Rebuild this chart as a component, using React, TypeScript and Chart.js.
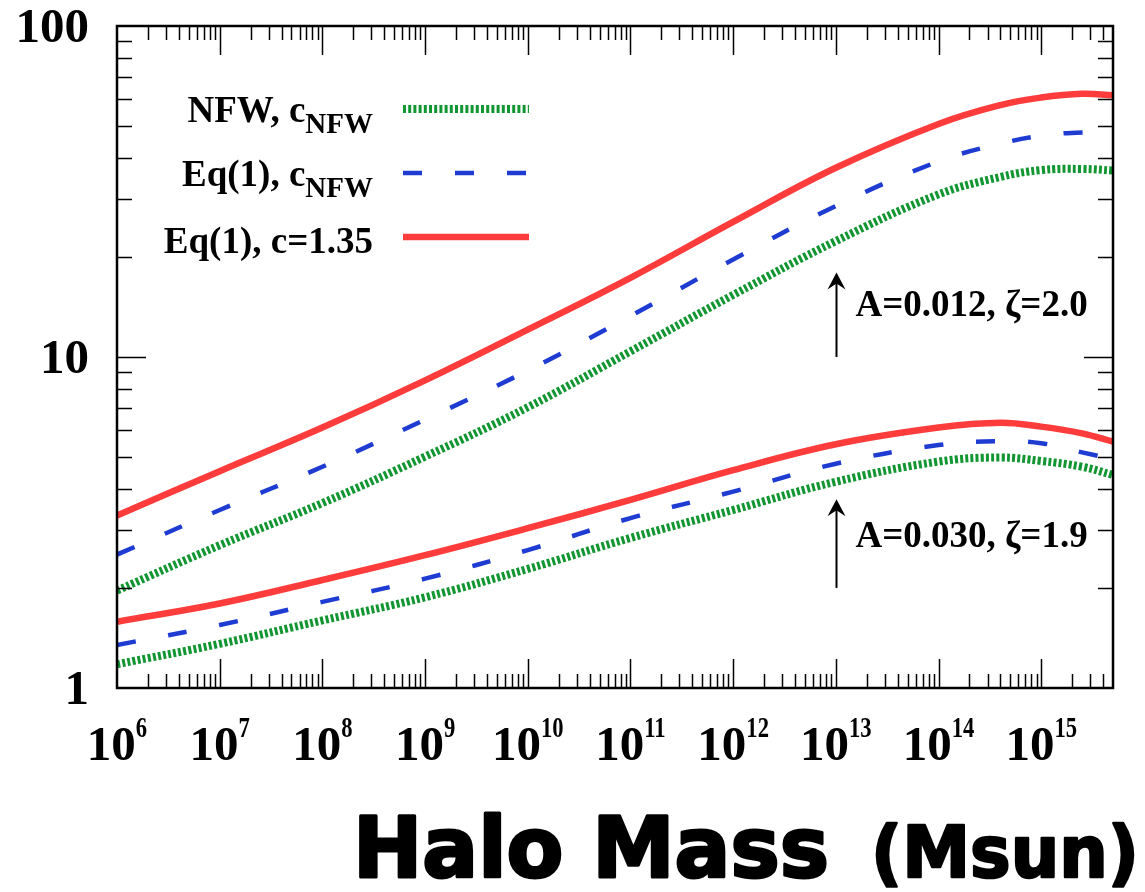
import React, { useEffect, useRef } from "react";
import { Chart, registerables } from "chart.js";

Chart.register(...registerables);

// ---- Data ----
const masses = [1e6, 1e7, 1e8, 1e9, 1e10, 1e11, 1e12, 1e13, 1e14, 4e14, 1e15, 2.5e15, 5e15];

// A=0.012, zeta=2.0 family
const upperNFW = [1.97, 2.7, 3.62, 5.0, 7.05, 10.4, 15.4, 22.4, 31.0, 35.0, 36.7, 37.0, 36.6];
const upperEqNFW = [2.53, 3.45, 4.66, 6.47, 9.1, 13.3, 19.7, 28.6, 39.0, 44.1, 46.6, 47.7, 47.5];
const upperEqC = [3.32, 4.52, 6.12, 8.5, 12.1, 17.35, 25.6, 37.3, 50.6, 57.7, 60.8, 62.4, 61.8];

// A=0.030, zeta=1.9 family
const lowerNFW = [1.18, 1.36, 1.6, 1.88, 2.29, 2.84, 3.45, 4.2, 4.83, 4.97, 4.85, 4.66, 4.4];
const lowerEqNFW = [1.349, 1.55, 1.82, 2.14, 2.61, 3.26, 3.92, 4.76, 5.42, 5.57, 5.49, 5.15, 4.92];
const lowerEqC = [1.586, 1.8, 2.12, 2.52, 3.04, 3.7, 4.55, 5.45, 6.12, 6.33, 6.16, 5.88, 5.55];

const xMin = 1e6;
const xMax = 5e15;
const yMin = 1;
const yMax = 100;

const xTickExponents = [6, 7, 8, 9, 10, 11, 12, 13, 14, 15];
const yTickValues = [1, 10, 100];
const yTickLabels = ["1", "10", "100"];

const legendMain = ["NFW, c", "Eq(1), c", "Eq(1), c=1.35"];
const legendSub = ["NFW", "NFW", ""];

const annotationTexts = ["A=0.012, \u03B6=2.0", "A=0.030, \u03B6=1.9"];
const annotationMass = 1e13;
const arrowFrom = [10, 2.006];
const arrowTo = [18, 3.72];
const annotationBaseline = [13.3, 2.67];

const titleMain = "Halo Mass";
const titleUnit = "(Msun)";

// ---- Styles ----
const GREEN = "rgb(18,150,50)";
const BLUE = "rgb(30,60,210)";
const RED = "rgb(255,60,60)";

const styleNFW = { borderColor: GREEN, borderWidth: 8, borderDash: [3, 2.2] };
const styleEqNFW = { borderColor: BLUE, borderWidth: 4.5, borderDash: [19, 33] };
const styleEqC = { borderColor: RED, borderWidth: 6.5, borderDash: [] as number[] };

const toPoints = (vals: number[]) => masses.map((m, i) => ({ x: m, y: vals[i] }));

const SERIF = '"Liberation Serif", "Times New Roman", serif';
const SANS = '"DejaVu Sans", sans-serif';

function drawFitted(ctx: CanvasRenderingContext2D, text: string, font: string, x: number, y: number, width: number, stroke: number) {
  ctx.save();
  ctx.font = font;
  const w = ctx.measureText(text).width;
  ctx.translate(x, y);
  ctx.scale(width / w, 1);
  ctx.fillText(text, 0, 0);
  if (stroke > 0) {
    ctx.lineWidth = stroke;
    ctx.lineJoin = "round";
    ctx.strokeStyle = "#000";
    ctx.strokeText(text, 0, 0);
  }
  ctx.restore();
}

const decorPlugin = {
  id: "decor",
  afterDraw(chart: any) {
    const { ctx, chartArea: ca, scales } = chart;
    const xs = scales.x;
    const ys = scales.y;
    ctx.save();

    // frame
    ctx.strokeStyle = "#000";
    ctx.lineWidth = 2.5;
    ctx.strokeRect(ca.left, ca.top, ca.right - ca.left, ca.bottom - ca.top);

    // x ticks (inward, top and bottom)
    ctx.lineWidth = 1.5;
    for (let d = 6; d <= 15; d++) {
      for (let k = 1; k <= 9; k++) {
        const v = k * Math.pow(10, d);
        if (v >= xMax * 0.999) continue;
        const px = Math.round(xs.getPixelForValue(v)) + 0.5;
        if (px <= ca.left + 1 || px >= ca.right - 1) continue;
        const len = k === 1 ? 29 : 14;
        ctx.beginPath();
        ctx.moveTo(px, ca.bottom);
        ctx.lineTo(px, ca.bottom - len);
        ctx.moveTo(px, ca.top);
        ctx.lineTo(px, ca.top + len);
        ctx.stroke();
      }
    }
    // y ticks (inward, left and right)
    for (let d = 0; d <= 1; d++) {
      for (let k = 1; k <= 9; k++) {
        const v = k * Math.pow(10, d);
        const py = Math.round(ys.getPixelForValue(v)) + 0.5;
        if (py >= ca.bottom - 1 || py <= ca.top + 1) continue;
        const len = k === 1 ? 29 : 15;
        ctx.beginPath();
        ctx.moveTo(ca.left, py);
        ctx.lineTo(ca.left + len, py);
        ctx.moveTo(ca.right, py);
        ctx.lineTo(ca.right - len, py);
        ctx.stroke();
      }
    }

    // y tick labels
    ctx.fillStyle = "#000";
    ctx.font = `bold 49px ${SERIF}`;
    ctx.textAlign = "right";
    ctx.textBaseline = "alphabetic";
    yTickValues.forEach((v, i) => {
      const py = ys.getPixelForValue(v);
      ctx.fillText(yTickLabels[i], ca.left - 28, py + 16);
    });

    // x tick labels: 10^n
    ctx.textAlign = "left";
    xTickExponents.forEach((e) => {
      const px = xs.getPixelForValue(Math.pow(10, e));
      ctx.font = `bold 49px ${SERIF}`;
      const baseW = ctx.measureText("10").width;
      ctx.font = `bold 29px ${SERIF}`;
      const supScale = 0.78;
      const supW = ctx.measureText(String(e)).width * supScale;
      const total = baseW + supW;
      const x0 = px - total / 2;
      ctx.font = `bold 49px ${SERIF}`;
      ctx.fillText("10", x0, ca.bottom + 72);
      ctx.save();
      ctx.translate(x0 + baseW, ca.bottom + 49);
      ctx.scale(supScale, 1);
      ctx.font = `bold 29px ${SERIF}`;
      ctx.fillText(String(e), 0, 0);
      ctx.restore();
    });

    // legend
    const legendStyles = [styleNFW, styleEqNFW, styleEqC];
    const rowY = [109, 173, 237];
    const textRight = 373;
    legendStyles.forEach((st, i) => {
      ctx.save();
      ctx.strokeStyle = st.borderColor;
      ctx.lineWidth = st.borderWidth;
      ctx.setLineDash(st.borderDash);
      ctx.lineCap = "butt";
      ctx.beginPath();
      ctx.moveTo(403, rowY[i]);
      ctx.lineTo(529, rowY[i]);
      ctx.stroke();
      ctx.restore();

      ctx.fillStyle = "#000";
      ctx.textAlign = "left";
      const sub = legendSub[i];
      ctx.font = `bold 29px ${SERIF}`;
      const subW = sub ? ctx.measureText(sub).width : 0;
      ctx.font = `bold 37px ${SERIF}`;
      const mainW = ctx.measureText(legendMain[i]).width;
      const x0 = textRight - subW - mainW;
      ctx.fillText(legendMain[i], x0, rowY[i] + 13 + (i === 2 ? 3 : 0));
      if (sub) {
        ctx.font = `bold 29px ${SERIF}`;
        ctx.fillText(sub, x0 + mainW, rowY[i] + 24);
      }
    });

    // annotations with arrows
    const ax = Math.round(xs.getPixelForValue(annotationMass)) + 0.5;
    annotationTexts.forEach((t, i) => {
      const yFrom = ys.getPixelForValue(arrowFrom[i]);
      const yTo = ys.getPixelForValue(arrowTo[i]);
      ctx.strokeStyle = "#000";
      ctx.lineWidth = 2;
      ctx.beginPath();
      ctx.moveTo(ax, yFrom);
      ctx.lineTo(ax, yTo + 8);
      ctx.stroke();
      ctx.fillStyle = "#000";
      ctx.beginPath();
      ctx.moveTo(ax, yTo);
      ctx.lineTo(ax - 9, yTo + 17);
      ctx.lineTo(ax, yTo + 11);
      ctx.lineTo(ax + 9, yTo + 17);
      ctx.closePath();
      ctx.fill();

      ctx.font = `bold 37px ${SERIF}`;
      ctx.textAlign = "left";
      ctx.fillText(t, ax + 19, ys.getPixelForValue(annotationBaseline[i]));
    });

    // axis title
    ctx.fillStyle = "#000";
    ctx.textAlign = "left";
    drawFitted(ctx, titleMain, `bold 84px ${SANS}`, 353, 877, 476, 3);
    drawFitted(ctx, titleUnit, `bold 72px ${SANS}`, 871, 877, 268, 2.5);

    ctx.restore();
  },
};

export default function App() {
  const canvasRef = useRef<HTMLCanvasElement | null>(null);

  useEffect(() => {
    const canvas = canvasRef.current;
    if (!canvas) return;
    const mk = (label: string, vals: number[], st: any) => ({
      label,
      data: toPoints(vals),
      borderColor: st.borderColor,
      borderWidth: st.borderWidth,
      borderDash: st.borderDash,
      borderCapStyle: "butt",
      pointRadius: 0,
      fill: false,
      tension: 0.4,
    });
    const chart = new Chart(canvas, {
      type: "line",
      data: {
        datasets: [
          mk("NFW, cNFW (A=0.012)", upperNFW, styleNFW),
          mk("Eq(1), cNFW (A=0.012)", upperEqNFW, styleEqNFW),
          mk("Eq(1), c=1.35 (A=0.012)", upperEqC, styleEqC),
          mk("NFW, cNFW (A=0.030)", lowerNFW, styleNFW),
          mk("Eq(1), cNFW (A=0.030)", lowerEqNFW, styleEqNFW),
          mk("Eq(1), c=1.35 (A=0.030)", lowerEqC, styleEqC),
        ] as any,
      },
      options: {
        responsive: false,
        animation: false,
        layout: { padding: { left: 117, right: 32, top: 26, bottom: 204 } },
        scales: {
          x: { type: "logarithmic", min: xMin, max: xMax, display: false },
          y: { type: "logarithmic", min: yMin, max: yMax, display: false },
        },
        plugins: {
          legend: { display: false },
          tooltip: { enabled: false },
        },
      } as any,
      plugins: [decorPlugin],
    });
    return () => chart.destroy();
  }, []);

  return (
    <div style={{ position: "absolute", left: 0, top: 0, width: 1145, height: 892, background: "#fff" }}>
      <canvas ref={canvasRef} width={1145} height={892} style={{ display: "block" }} />
    </div>
  );
}
